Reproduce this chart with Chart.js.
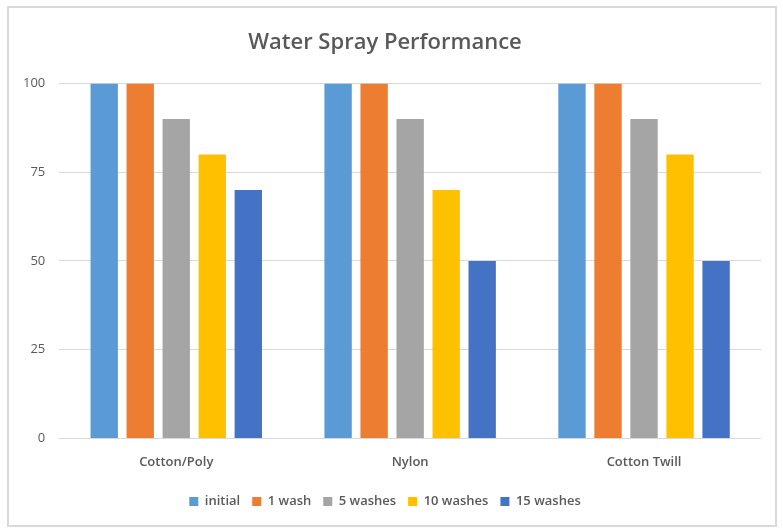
<!DOCTYPE html>
<html>
<head>
<meta charset="utf-8">
<script src="https://cdn.jsdelivr.net/npm/chart.js@4/dist/chart.umd.min.js"></script>
<style>
  body { margin: 0; background: #fff; }
  #frame {
    position: absolute; left: 7px; top: 6px; width: 766px; height: 517px;
    border: 2px solid #d9d9d9; background: #fff;
  }
</style>
</head>
<body>
<div id="frame"><canvas id="sprayChart" width="766" height="517"></canvas></div>
<script>
const categories = ['Cotton/Poly', 'Nylon', 'Cotton Twill'];
const seriesNames = ['initial', '1 wash', '5 washes', '10 washes', '15 washes'];
const initial = [100, 100, 100];
const oneWash = [100, 100, 100];
const fiveWashes = [90, 90, 90];
const tenWashes = [80, 70, 80];
const fifteenWashes = [70, 50, 50];
const yTicks = [0, 25, 50, 75, 100];

const colors = ['#5B9BD5', '#ED7D31', '#A5A5A5', '#FFC000', '#4472C4'];
const values = [initial, oneWash, fiveWashes, tenWashes, fifteenWashes];

const fontFamily = '"Open Sans", "Liberation Sans", sans-serif';

const ctx = document.getElementById('sprayChart').getContext('2d');
new Chart(ctx, {
  type: 'bar',
  data: {
    labels: categories,
    datasets: seriesNames.map(function (name, i) {
      return {
        label: name,
        data: values[i],
        backgroundColor: colors[i],
        borderWidth: 0,
        categoryPercentage: 0.77,
        barPercentage: 0.76
      };
    })
  },
  options: {
    responsive: false,
    animation: false,
    layout: { padding: { left: 0, right: 14, top: 14, bottom: 7 } },
    plugins: {
      title: {
        display: true,
        text: 'Water Spray Performance',
        color: '#595959',
        font: { family: fontFamily, size: 22, weight: '600' },
        padding: { top: 8, bottom: 27 }
      },
      legend: {
        position: 'bottom',
        labels: {
          color: '#595959',
          font: { family: fontFamily, size: 13, weight: '600' },
          boxWidth: 9,
          boxHeight: 9,
          padding: 12
        }
      },
      tooltip: { enabled: false }
    },
    scales: {
      x: {
        grid: { display: false },
        border: { display: false },
        afterFit: function (axis) {
          axis.height += 5;
        },
        ticks: {
          color: '#595959',
          font: { family: fontFamily, size: 13, weight: '600' },
          padding: 8
        }
      },
      y: {
        min: 0,
        max: 100,
        afterBuildTicks: function (axis) {
          axis.ticks = yTicks.map(function (v) { return { value: v }; });
        },
        grid: { color: '#d9d9d9', drawTicks: false },
        border: { display: false },
        ticks: {
          color: '#595959',
          font: { family: fontFamily, size: 13 },
          padding: 14
        }
      }
    }
  }
});
</script>
</body>
</html>
